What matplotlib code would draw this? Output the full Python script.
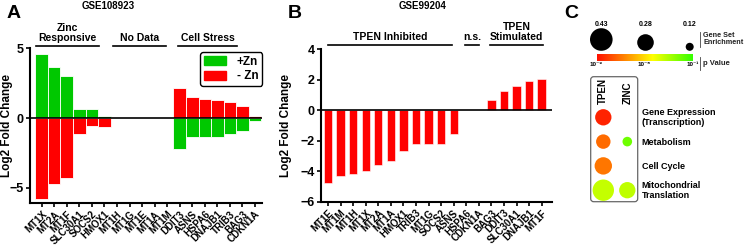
import numpy as np
import matplotlib
matplotlib.use('Agg')
import matplotlib.pyplot as plt
from matplotlib.patches import Patch, FancyBboxPatch
from matplotlib.colors import LinearSegmentedColormap, Normalize
import matplotlib.transforms as mtransforms

plt.rcParams['font.family'] = ['Liberation Sans', 'DejaVu Sans']
plt.rcParams['font.weight'] = 'bold'
plt.rcParams['axes.labelweight'] = 'bold'

# ---------------- data ----------------
genes_a = ['MT1X', 'MT2A', 'MT1F', 'SLC30A1', 'SOCS2', 'HMOX1', 'MT1H', 'MT1G', 'MT1E',
           'MT1A', 'MT1M', 'DDIT3', 'ASNS', 'HSPA6', 'DNAJB1', 'TRIB3', 'BAG3', 'CDKN1A']
plus_zn = [4.58, 3.65, 3.05, 0.67, 0.67, 0.15, 0, 0, 0, 0, 0,
           -2.25, -1.35, -1.35, -1.35, -1.13, -0.91, -0.2]
minus_zn = [-5.78, -4.7, -4.3, -1.15, -0.55, -0.67, 0, 0, 0, 0, 0,
            2.18, 1.53, 1.35, 1.3, 1.13, 0.86, 0.15]
groups_a = ['Zinc\nResponsive', 'No Data', 'Cell Stress']

genes_b = ['MT1E', 'MT1M', 'MT1H', 'MT1X', 'MT2A', 'MT1A', 'HMOX1', 'TRIB3', 'MT1G',
           'SOCS2', 'ASNS', 'HSPA6', 'CDKN1A', 'BAG3', 'DDIT3', 'SLC30A1', 'DNAJB1', 'MT1F']
tpen_b = [-4.8, -4.32, -4.15, -3.97, -3.6, -3.32, -2.7, -2.22, -2.2,
          -2.2, -1.55, 0, 0, 0.66, 1.25, 1.6, 1.92, 2.07]
groups_b = ['TPEN Inhibited', 'n.s.', 'TPEN\nStimulated']

categories_c = ['Gene Expression\n(Transcription)', 'Metabolism', 'Cell Cycle',
                'Mitochondrial\nTranslation']
datasets_c = ['TPEN', 'ZINC']
enrich_tpen = [0.275, 0.24, 0.30, 0.40]
enrich_zinc = [np.nan, 0.15, np.nan, 0.275]
logp_tpen = [-8.6, -7.2, -7.0, -3.4]
logp_zinc = [np.nan, -2.0, np.nan, -3.3]
legend_enrich = [0.43, 0.28, 0.12]
pval_labels = ['10⁻⁹', '10⁻⁵', '10⁻¹']

GREEN = '#00c800'
RED = '#ff0000'

W, H = 744, 248
fig = plt.figure(figsize=(W / 100, H / 100), dpi=100)


def px_axes(l, t, r, b):
    return fig.add_axes([l / W, 1 - b / H, (r - l) / W, (b - t) / H])


def style_axes(ax):
    ax.spines['top'].set_visible(False)
    ax.spines['right'].set_visible(False)
    ax.spines['left'].set_linewidth(1.5)
    ax.spines['bottom'].set_linewidth(1.5)
    ax.tick_params(axis='both', direction='out', length=3, width=1.2, pad=1.5)
    ax.tick_params(axis='y', labelsize=9)
    for t in ax.get_yticklabels():
        t.set_fontweight('bold')


# ---------------- Panel A ----------------
axA = px_axes(30, 48.5, 262, 203)
xa = np.arange(len(genes_a))
axA.bar(xa, plus_zn, width=1.0, color=GREEN, edgecolor='white', linewidth=0.6, label='+Zn')
axA.bar(xa, minus_zn, width=1.0, color=RED, edgecolor='white', linewidth=0.6, label='- Zn')
axA.axhline(0, color='black', lw=1.2, zorder=3)
axA.set_xlim(-0.93, 17.56)
axA.set_ylim(-6.1, 5)
axA.set_yticks([-5, 0, 5])
axA.set_xticks(xa)
axA.set_xticklabels(genes_a, rotation=45, ha='right', rotation_mode='anchor',
                    fontsize=7, fontweight='bold')
style_axes(axA)
axA.set_ylabel('Log2 Fold Change', fontsize=8.5)
axA.yaxis.set_label_coords(-0.075, 0.5)
leg = axA.legend(handles=[Patch(color=GREEN, label='+Zn'), Patch(color=RED, label='- Zn')],
                 loc='upper right', bbox_to_anchor=(1.0, 0.975), fontsize=8.5,
                 handlelength=1.9, handleheight=0.8, handletextpad=0.9,
                 borderpad=0.3, labelspacing=0.2, borderaxespad=0.0,
                 fancybox=True, framealpha=1, edgecolor='black')
leg.get_frame().set_linewidth(1.0)
for t in leg.get_texts():
    t.set_fontweight('bold')

trA = mtransforms.blended_transform_factory(axA.transData, axA.transAxes)
spans_a = [(-0.45, 4.57), (5.66, 9.9), (10.87, 15.56)]
for lab, (x0, x1) in zip(groups_a, spans_a):
    axA.plot([x0, x1], [1.016, 1.016], color='black', lw=1.2, transform=trA, clip_on=False)
    axA.text((x0 + x1) / 2, 1.035, lab, transform=trA, ha='center', va='bottom',
             fontsize=7.5, fontweight='bold', linespacing=1.0)

# ---------------- Panel B ----------------
axB = px_axes(320.7, 49.3, 551.7, 201.7)
xb = np.arange(len(genes_b))
axB.bar(xb, tpen_b, width=0.66, color=RED, edgecolor='white', linewidth=0.4)
axB.axhline(0, color='black', lw=1.2, zorder=3)
axB.set_xlim(-0.58, 17.8)
axB.set_ylim(-6, 4)
axB.set_yticks([-6, -4, -2, 0, 2, 4])
axB.set_xticks(xb)
axB.set_xticklabels(genes_b, rotation=45, ha='right', rotation_mode='anchor',
                    fontsize=7, fontweight='bold')
style_axes(axB)
axB.set_ylabel('Log2 Fold Change', fontsize=8.5)
axB.yaxis.set_label_coords(-0.125, 0.5)
trB = mtransforms.blended_transform_factory(axB.transData, axB.transAxes)
spans_b = [(-0.02, 9.89), (10.9, 12.0), (12.9, 17.1)]
for lab, (x0, x1) in zip(groups_b, spans_b):
    axB.plot([x0, x1], [1.028, 1.028], color='black', lw=1.2, transform=trB, clip_on=False)
    axB.text((x0 + x1) / 2, 1.048, lab, transform=trB, ha='center', va='bottom',
             fontsize=7.5, fontweight='bold', linespacing=1.0)

# titles and panel letters
fig.text(108 / W, 1 - 6 / H, 'GSE108923', ha='center', va='center', fontsize=7, fontweight='bold')
fig.text(423 / W, 1 - 6 / H, 'GSE99204', ha='center', va='center', fontsize=7, fontweight='bold')
fig.text(14 / W, 1 - 14 / H, 'A', ha='center', va='center', fontsize=14, fontweight='bold')
fig.text(295 / W, 1 - 14 / H, 'B', ha='center', va='center', fontsize=14, fontweight='bold')
fig.text(571 / W, 1 - 14 / H, 'C', ha='center', va='center', fontsize=14, fontweight='bold')

# ---------------- Panel C ----------------
axC = fig.add_axes([0, 0, 1, 1], zorder=5)
axC.set_xlim(0, W)
axC.set_ylim(H, 0)
axC.axis('off')
axC.patch.set_alpha(0)

cmap = LinearSegmentedColormap.from_list(
    'pv', [(0.0, '#ff1000'), (0.3, '#ff8a00'), (0.58, '#ffff00'), (1.0, '#33ff00')])
norm = Normalize(vmin=-9, vmax=-1)


def radius_px(e):
    return np.interp(e, [0.12, 0.28, 0.43], [4.0, 8.3, 11.3])


def s_of(e):
    return (2 * radius_px(e) * 0.72) ** 2


# size legend
lx0, lstep, lbottom = 601.3, 44.2, 50.8
for i, e in enumerate(legend_enrich):
    r = radius_px(e)
    cx = lx0 + i * lstep
    axC.scatter([cx], [lbottom - r], s=s_of(e), color='black', edgecolors='none')
    axC.text(cx, 24.5, f'{e:.2f}', ha='center', va='center', fontsize=5, fontweight='bold')
axC.plot([700, 700], [31.5, 46.5], color='#444444', lw=0.6)
axC.text(703, 39, 'Gene Set\nEnrichment', ha='left', va='center', fontsize=5.2,
         fontweight='bold', linespacing=1.1, color='#222222')

# colour bar
grad = np.linspace(0, 1, 256).reshape(1, -1)
axC.imshow(grad, cmap=cmap, aspect='auto', extent=[597.3, 692.7, 61, 54], zorder=2)
for i, lab in enumerate(pval_labels):
    axC.text(596 + i * 48.3, 65, lab, ha='center', va='center', fontsize=4.5, fontweight='bold')
axC.plot([700, 700], [57, 70], color='#444444', lw=0.6)
axC.text(703, 63.5, 'p Value', ha='left', va='center', fontsize=5.5, fontweight='bold',
         color='#222222')

# bubble box
box = FancyBboxPatch((590.7, 76.7), 47, 125, boxstyle='round,pad=0,rounding_size=3',
                     facecolor='white', edgecolor='#666666', lw=0.9, zorder=1)
axC.add_patch(box)
col_x0, col_step = 603.3, 24.0
row_y0, row_step = 117.3, 24.3
for j, name in enumerate(datasets_c):
    axC.text(col_x0 + j * col_step, 103.5, name, rotation=90, ha='center', va='bottom',
             fontsize=7, fontweight='bold')
for j, (en, lp) in enumerate([(enrich_tpen, logp_tpen), (enrich_zinc, logp_zinc)]):
    for i in range(len(categories_c)):
        if np.isnan(en[i]):
            continue
        axC.scatter([col_x0 + j * col_step], [row_y0 + i * row_step], s=s_of(en[i]),
                    color=cmap(norm(lp[i])), edgecolors='none', zorder=3)
for i, cat in enumerate(categories_c):
    axC.text(641.7, row_y0 + i * row_step + 0.5, cat, ha='left', va='center', fontsize=6.5,
             fontweight='bold', linespacing=1.15)
axC.set_xlim(0, W)
axC.set_ylim(H, 0)

fig.savefig('out.png', dpi=100)
